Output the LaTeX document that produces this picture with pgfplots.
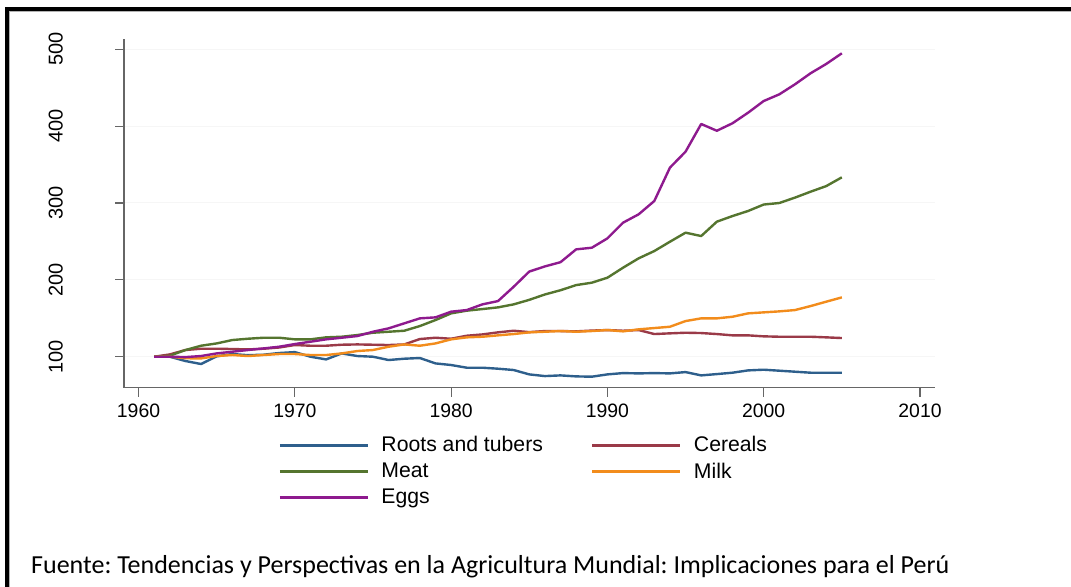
\documentclass[border=0pt]{standalone}
\usepackage{fontspec}
\setmainfont{Liberation Sans}
\newfontfamily\calibri{Carlito}
\usepackage{pgfplots}
\usepackage{pgfplotstable}
\pgfplotsset{compat=1.18}
\definecolor{stnavy}{HTML}{2E5F8C}
\definecolor{stmaroon}{HTML}{9A3A48}
\definecolor{stgreen}{HTML}{55752F}
\definecolor{storange}{HTML}{F28C1C}
\definecolor{stpurple}{HTML}{8E1A8E}

% indices, 1961 = 100
\pgfplotstableread{
year roots cereals meat milk eggs
1961 100   100   100   100   100
1962 100   103   101.3 100   100
1963 94.4  108.7 108.7 98    99.5
1964 90.5  110.4 114.3 97.8  100.9
1965 100.5 110.4 117.3 100.9 104.3
1966 103.5 110   121.7 102.2 106.5
1967 102   109.5 123.4 100.9 108.7
1968 102.6 110.4 124.7 102.2 110.8
1969 104.8 112   124.7 103.5 113
1970 106   115.2 122.6 103.5 116.5
1971 100   114.3 122.6 102.2 119.5
1972 96.5  114.3 125.2 102.2 122.6
1973 104.3 115.6 126   104.3 124.7
1974 100.9 116   128.2 107.4 126.9
1975 100   115.6 131.2 108.7 132.5
1976 95.7  115.2 132.5 113   136.9
1977 97.4  116   133.8 116   143.4
1978 98.3  123   139.9 114.3 149.9
1979 91.3  124.7 147.7 117.3 151.2
1980 89.2  123.4 156.4 122.6 158.6
1981 85.7  127.3 159.9 125.2 160.7
1982 85.7  129   162   126   168.1
1983 84.4  131.7 164.2 127.8 172.4
1984 82.7  133.8 168.1 129.5 191
1985 77    132   174   131.7 210.8
1986 74.8  133.4 181   132.5 217.5
1987 75.7  133.4 186.5 133.4 223
1988 74.4  133   193.2 132.5 239.7
1989 74    134   196.3 133.4 241.8
1990 77    134.7 202.8 134.7 254
1991 78.7  133.8 215.8 133   274.4
1992 78.3  134.7 228   135.6 285.3
1993 78.7  129.5 237.5 137.3 302.6
1994 78.3  130.4 249.6 139   346
1995 80    131.2 261.4 146.4 366.8
1996 75.7  130.8 257   149.9 402.8
1997 77.4  129.5 275.7 149.9 394
1998 79.2  127.8 283   152   403.7
1999 82.2  127.8 289.6 156.4 417.5
2000 83.1  126.5 298   157.7 432.7
2001 81.8  126   300   159   441.4
2002 80.5  126   307   160.7 454.4
2003 79.2  126   314.7 165.9 468.8
2004 79.2  125.2 322   171.6 480.9
2005 79.2  124.3 333.4 177.2 494.8
}\foodidx

\begin{document}
\frenchspacing
\begin{tikzpicture}
\path[use as bounding box] (0,0) rectangle (535.5pt,293.5pt);
% scanned frame, top and left only
\draw[gray!60,line width=1pt] (4.6pt,0) -- (4.6pt,288pt) -- (535.5pt,288pt);
\draw[black,line width=1.6pt] (3.5pt,0) -- (3.5pt,289pt) -- (535.5pt,289pt);

\begin{axis}[
  at={(62pt,99.65pt)},anchor=south west,
  scale only axis,width=405.5pt,height=174.2pt,
  xmin=1959.07,xmax=2010.96,ymin=59.7,ymax=513,
  axis lines=left,
  axis line style={-,draw=gray!80!black,line width=0.6pt},
  xtick={1960,1970,...,2010},ytick={100,200,...,500},
  tick align=outside,major tick length=4.5pt,
  tick style={draw=gray!80!black,line width=0.6pt},
  ymajorgrids,grid style={gray!7,line width=0.5pt},
  xticklabel style={font=\fontsize{9.7}{11}\selectfont},
  yticklabel style={font=\fontsize{10}{11}\selectfont,rotate=90,anchor=south},
  yticklabel shift=22.5pt,
  /pgf/number format/assume math mode=true,
  /pgf/number format/1000 sep={},
  every axis plot/.append style={line width=1.2pt,line join=round},
  legend style={at={(axis description cs:0.19,-0.127)},anchor=north west,
    draw=none,fill=none,inner sep=0pt,
    font=\fontsize{10.6}{12}\selectfont,
    legend columns=2,
    /tikz/every odd column/.append style={column sep=4pt},
    /tikz/every even column/.append style={column sep=22pt}},
  legend cell align=left,
  legend image code/.code={\draw[#1,line width=1.5pt] (0pt,0pt) -- (44pt,0pt);},
]
\addplot[stnavy]   table[x=year,y=roots]   {\foodidx};
\addplot[stmaroon] table[x=year,y=cereals] {\foodidx};
\addplot[stgreen]  table[x=year,y=meat]    {\foodidx};
\addplot[storange] table[x=year,y=milk]    {\foodidx};
\addplot[stpurple] table[x=year,y=eggs]    {\foodidx};
\legend{Roots and tubers,Cereals,Meat,Milk,Eggs}
\end{axis}

\node[anchor=base west,inner sep=0pt,font=\calibri\fontsize{13}{15}\selectfont]
  at (15.4pt,6.8pt) {Fuente: Tendencias y Perspectivas en la Agricultura Mundial: Implicaciones para el Perú};
\end{tikzpicture}
\end{document}
